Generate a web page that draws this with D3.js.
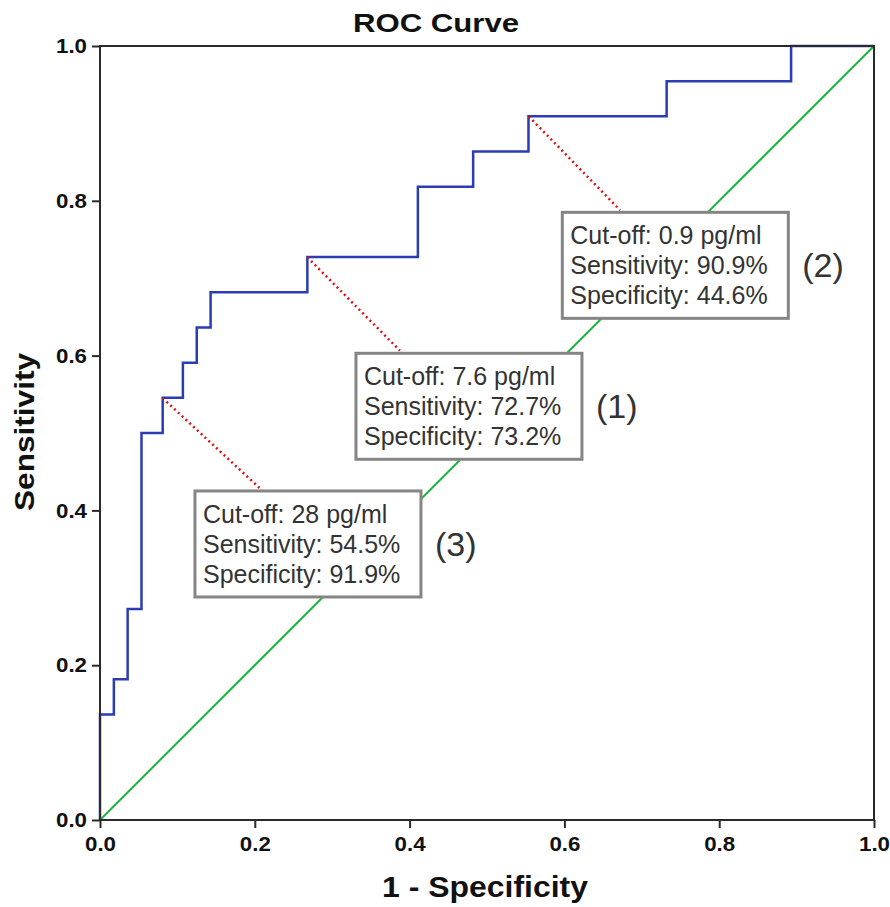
<!DOCTYPE html>
<html>
<head>
<meta charset="utf-8">
<script src="https://cdn.jsdelivr.net/npm/d3@7"></script>
<style>
  html, body { margin: 0; padding: 0; background: #fff; }
  svg { display: block; }
</style>
</head>
<body>
<svg id="chart" width="890" height="907"></svg>
<script>
// ROC curve vertices (1 - specificity, sensitivity), drawn as a step-after line
const fpr = [0, 0, 0.0179, 0.0357, 0.0536, 0.081, 0.1071, 0.125, 0.1429, 0.2679, 0.4107, 0.4821, 0.5536, 0.7321, 0.8929, 1];
const tpr = [0, 0.1364, 0.1818, 0.2727, 0.5, 0.5455, 0.5909, 0.6364, 0.6818, 0.7273, 0.8182, 0.8636, 0.9091, 0.9545, 1, 1];

// Reference (chance) line
const refLine = [0, 1];

// Highlighted cut-off points
const cutLabels = ["(1)", "(2)", "(3)"];
const cutoffs = ["7.6 pg/ml", "0.9 pg/ml", "28 pg/ml"];
const sensitivity = [72.7, 90.9, 54.5];
const specificity = [73.2, 44.6, 91.9];

const ticks = [0, 0.2, 0.4, 0.6, 0.8, 1.0];

// Callout box placement in data units (top-left corner) and leader end on the box edge
const boxPos = [
  { bx: 0.3307, by: 0.603, ex: 0.3876, ey: 0.6063 },
  { bx: 0.5973, by: 0.7851, ex: 0.6718, ey: 0.7881 },
  { bx: 0.1227, by: 0.4251, ex: 0.2089, ey: 0.4264 }
];

const svg = d3.select("#chart");
const plotLeft = 100, plotTop = 46, plotSize = 774;
const x = d3.scaleLinear().domain([0, 1]).range([plotLeft, plotLeft + plotSize]);
const y = d3.scaleLinear().domain([0, 1]).range([plotTop + plotSize, plotTop]);

const axisColor = "#2a2a2a";

// Title
svg.append("text")
  .attr("x", 436).attr("y", 32)
  .attr("text-anchor", "middle")
  .attr("font-family", "Liberation Sans, Arial, sans-serif")
  .attr("font-weight", "bold")
  .attr("font-size", 26)
  .attr("textLength", 166).attr("lengthAdjust", "spacingAndGlyphs")
  .attr("fill", "#111")
  .text("ROC Curve");

// Reference diagonal
svg.append("line")
  .attr("x1", x(refLine[0])).attr("y1", y(refLine[0]))
  .attr("x2", x(refLine[1])).attr("y2", y(refLine[1]))
  .attr("stroke", "#1db43c").attr("stroke-width", 2);

// ROC step curve
const pts = fpr.map((f, i) => [f, tpr[i]]);
const line = d3.line().x(d => x(d[0])).y(d => y(d[1])).curve(d3.curveStepAfter);
svg.append("path")
  .attr("d", line(pts))
  .attr("fill", "none")
  .attr("stroke", "#2a3db5")
  .attr("stroke-width", 2.5);

// Callouts
const callouts = svg.append("g");
cutLabels.forEach((lab, i) => {
  const spec = specificity[i] / 100;
  const ax = x(1 - spec), ay = y(sensitivity[i] / 100);
  const p = boxPos[i];
  const bx = x(p.bx), by = y(p.by);
  const bw = 226, bh = 106;

  callouts.append("line")
    .attr("x1", ax).attr("y1", ay)
    .attr("x2", x(p.ex)).attr("y2", y(p.ey))
    .attr("stroke", "#e01010").attr("stroke-width", 2.5)
    .attr("stroke-dasharray", "2,3.2");

  callouts.append("rect")
    .attr("x", bx).attr("y", by).attr("width", bw).attr("height", bh)
    .attr("fill", "#fff").attr("stroke", "#858585").attr("stroke-width", 3);

  const lines = [
    "Cut-off: " + cutoffs[i],
    "Sensitivity: " + sensitivity[i].toFixed(1) + "%",
    "Specificity: " + specificity[i].toFixed(1) + "%"
  ];
  lines.forEach((t, j) => {
    callouts.append("text")
      .attr("x", bx + 8).attr("y", by + 32 + j * 30)
      .attr("font-family", "Liberation Sans, Arial, sans-serif")
      .attr("font-size", 25)
      .attr("fill", "#333")
      .text(t);
  });

  callouts.append("text")
    .attr("x", bx + bw + 14).attr("y", by + bh / 2 + 12)
    .attr("font-family", "Liberation Sans, Arial, sans-serif")
    .attr("font-size", 34)
    .attr("fill", "#333")
    .text(lab);
});

// Plot frame
svg.append("rect")
  .attr("x", plotLeft).attr("y", plotTop).attr("width", plotSize).attr("height", plotSize)
  .attr("fill", "none").attr("stroke", axisColor).attr("stroke-width", 2);

// Axes
const fmt = d3.format(".1f");
const xAxis = svg.append("g")
  .attr("transform", `translate(0,${plotTop + plotSize})`)
  .call(d3.axisBottom(x).tickValues(ticks).tickFormat(fmt).tickSize(8).tickPadding(8));
const yAxis = svg.append("g")
  .attr("transform", `translate(${plotLeft},0)`)
  .call(d3.axisLeft(y).tickValues(ticks).tickFormat(fmt).tickSize(8).tickPadding(5));

[xAxis, yAxis].forEach(g => {
  g.select(".domain").remove();
  g.selectAll(".tick line").attr("stroke", axisColor).attr("stroke-width", 2);
  g.selectAll(".tick text")
    .attr("font-family", "Liberation Sans, Arial, sans-serif")
    .attr("font-weight", "bold")
    .attr("font-size", 21)
    .attr("fill", "#111")
    .attr("textLength", 31).attr("lengthAdjust", "spacingAndGlyphs");
});

// Axis titles
svg.append("text")
  .attr("x", 485).attr("y", 897)
  .attr("text-anchor", "middle")
  .attr("font-family", "Liberation Sans, Arial, sans-serif")
  .attr("font-weight", "bold")
  .attr("font-size", 29)
  .attr("textLength", 206).attr("lengthAdjust", "spacingAndGlyphs")
  .attr("fill", "#111")
  .text("1 - Specificity");

svg.append("text")
  .attr("transform", "translate(34,432) rotate(-90)")
  .attr("text-anchor", "middle")
  .attr("font-family", "Liberation Sans, Arial, sans-serif")
  .attr("font-weight", "bold")
  .attr("font-size", 28)
  .attr("textLength", 158).attr("lengthAdjust", "spacingAndGlyphs")
  .attr("fill", "#111")
  .text("Sensitivity");
</script>
</body>
</html>
